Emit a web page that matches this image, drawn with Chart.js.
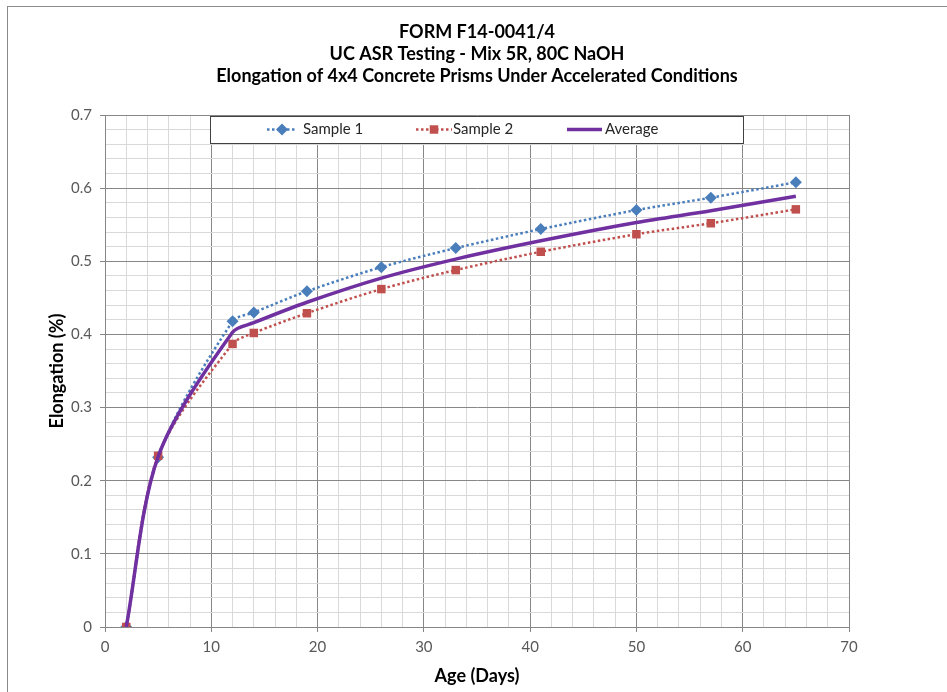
<!DOCTYPE html>
<html lang="en">
<head>
    <meta charset="UTF-8">
    <title>UC ASR Testing - Mix 5R</title>
    <script src="https://cdn.jsdelivr.net/npm/chart.js"></script>
    <style>
        body {
            margin: 0;
            background: #ffffff;
            font-family: Lato, sans-serif;
        }
        #frame {
            position: absolute;
            left: 7px;
            top: 6px;
            width: 1000px;
            height: 1000px;
            border-left: 1px solid #8a8a8a;
            border-top: 1px solid #8a8a8a;
        }
        #wrap {
            position: absolute;
            left: 0;
            top: 0;
            width: 947px;
            height: 692px;
        }
    </style>
</head>
<body>
    <div id="frame"></div>
    <div id="wrap">
        <canvas id="asrChart" width="947" height="692"></canvas>
    </div>
    <script>
        // ages (days) at which the prisms were measured
        const ageDays = [2, 5, 12, 14, 19, 26, 33, 41, 50, 57, 65];
        // elongation (%)
        const sample1 = [0, 0.232, 0.418, 0.430, 0.459, 0.492, 0.518, 0.544, 0.570, 0.587, 0.608];
        const sample2 = [0, 0.234, 0.387, 0.402, 0.429, 0.462, 0.488, 0.513, 0.537, 0.552, 0.571];
        const average = [0, 0.233, 0.403, 0.416, 0.444, 0.477, 0.503, 0.528, 0.553, 0.569, 0.589];

        const titleLines = [
            'FORM F14-0041/4',
            'UC ASR Testing - Mix 5R, 80C NaOH',
            'Elongation of 4x4 Concrete Prisms Under Accelerated Conditions'
        ];

        function toPoints(ys) {
            return ageDays.map((x, i) => ({ x: x, y: ys[i] }));
        }

        const isMajor = (v, unit) => Math.abs(v / unit - Math.round(v / unit)) < 1e-6;

        // title centred over the plot area (Excel centres it there, not on the canvas)
        const plotTitle = {
            id: 'plotTitle',
            afterDraw(chart) {
                const ctx = chart.ctx;
                const a = chart.chartArea;
                const cx = (a.left + a.right) / 2;
                ctx.save();
                ctx.fillStyle = '#000000';
                ctx.font = 'bold 18px Lato';
                ctx.textAlign = 'center';
                ctx.textBaseline = 'middle';
                titleLines.forEach((t, i) => ctx.fillText(t, cx, 32 + i * 22));
                ctx.restore();
            }
        };

        // legend box drawn inside the plot, Excel style
        const boxLegend = {
            id: 'boxLegend',
            afterDraw(chart) {
                const ctx = chart.ctx;
                const a = chart.chartArea;
                const x0 = a.left + 105, y0 = a.top + 1, w = 533, h = 27;
                ctx.save();
                ctx.fillStyle = '#ffffff';
                ctx.fillRect(x0, y0, w, h);
                ctx.strokeStyle = '#404040';
                ctx.lineWidth = 1;
                ctx.strokeRect(x0 + 0.5, y0 + 0.5, w, h);

                const cy = y0 + h / 2;
                const items = [
                    { ds: chart.data.datasets[0], lx: x0 + 57, len: 30, tx: x0 + 93 },
                    { ds: chart.data.datasets[1], lx: x0 + 206, len: 36, tx: x0 + 243 },
                    { ds: chart.data.datasets[2], lx: x0 + 357, len: 35, tx: x0 + 395 }
                ];
                items.forEach(it => {
                    const ds = it.ds;
                    ctx.strokeStyle = ds.borderColor;
                    ctx.lineWidth = ds.borderWidth;
                    ctx.lineCap = ds.borderCapStyle || 'butt';
                    ctx.setLineDash(ds.borderDash || []);
                    ctx.beginPath();
                    ctx.moveTo(it.lx, cy);
                    ctx.lineTo(it.lx + it.len, cy);
                    ctx.stroke();
                    ctx.setLineDash([]);
                    if (ds.pointRadius > 0) {
                        ctx.fillStyle = ds.backgroundColor;
                        Chart.helpers.drawPoint(ctx, {
                            pointStyle: ds.pointStyle,
                            radius: ds.pointRadius,
                            borderWidth: 0,
                            rotation: 0
                        }, it.lx + it.len / 2, cy);
                    }
                    ctx.fillStyle = '#262626';
                    ctx.font = '15px Lato';
                    ctx.textAlign = 'left';
                    ctx.textBaseline = 'middle';
                    ctx.fillText(ds.label, it.tx, cy);
                });
                ctx.restore();
            }
        };

        const ctx = document.getElementById('asrChart').getContext('2d');
        const asrChart = new Chart(ctx, {
            type: 'scatter',
            data: {
                datasets: [{
                    label: 'Sample 1',
                    data: toPoints(sample1),
                    showLine: true,
                    borderColor: '#4a7ebb',
                    backgroundColor: '#4a7ebb',
                    borderWidth: 2.5,
                    borderDash: [2.5, 2.5],
                    borderCapStyle: 'butt',
                    pointStyle: 'rectRot',
                    pointRadius: 6,
                    pointBorderWidth: 0,
                    tension: 0.3,
                    order: 2
                }, {
                    label: 'Sample 2',
                    data: toPoints(sample2),
                    showLine: true,
                    borderColor: '#c0504d',
                    backgroundColor: '#c0504d',
                    borderWidth: 2.5,
                    borderDash: [2.5, 2.5],
                    borderCapStyle: 'butt',
                    pointStyle: 'rect',
                    pointRadius: 6,
                    pointBorderWidth: 0,
                    tension: 0.3,
                    order: 1
                }, {
                    label: 'Average',
                    data: toPoints(average),
                    showLine: true,
                    borderColor: '#7030a0',
                    backgroundColor: '#7030a0',
                    borderWidth: 3.5,
                    pointRadius: 0,
                    tension: 0.3,
                    order: 0
                }]
            },
            options: {
                responsive: false,
                animation: false,
                layout: { padding: { left: 0, right: 98, top: 115, bottom: 0 } },
                plugins: {
                    legend: { display: false },
                    tooltip: { enabled: false },
                    title: { display: false }
                },
                scales: {
                    x: {
                        type: 'linear',
                        min: 0,
                        max: 70,
                        afterFit(scale) { scale.height = 65; },
                        border: { color: '#868686' },
                        grid: {
                            color: c => isMajor(c.tick.value, 10) ? '#878787' : '#d9d9d9',
                            tickColor: c => isMajor(c.tick.value, 10) ? '#868686' : 'rgba(0,0,0,0)',
                            tickLength: 5
                        },
                        ticks: {
                            stepSize: 2,
                            autoSkip: false,
                            maxTicksLimit: 100,
                            maxRotation: 0,
                            padding: 6,
                            color: '#595959',
                            font: { family: 'Lato', size: 15 },
                            callback: v => isMajor(v, 10) ? String(Math.round(v)) : ''
                        },
                        title: {
                            display: true,
                            text: 'Age (Days)',
                            color: '#000000',
                            font: { family: 'Lato', size: 18, weight: 'bold' },
                            padding: { top: 0, bottom: 5 }
                        }
                    },
                    y: {
                        min: 0,
                        max: 0.7,
                        afterFit(scale) { scale.width = 105; },
                        border: { color: '#868686' },
                        grid: {
                            color: c => isMajor(c.tick.value, 0.1) ? '#878787' : '#d9d9d9',
                            tickColor: c => isMajor(c.tick.value, 0.1) ? '#868686' : 'rgba(0,0,0,0)',
                            tickLength: 5
                        },
                        ticks: {
                            stepSize: 0.02,
                            autoSkip: false,
                            maxTicksLimit: 100,
                            padding: 8,
                            color: '#595959',
                            font: { family: 'Lato', size: 15 },
                            callback: v => isMajor(v, 0.1) ? String(Math.round(v * 10) / 10) : ''
                        },
                        title: {
                            display: true,
                            text: 'Elongation (%)',
                            color: '#000000',
                            font: { family: 'Lato', size: 18, weight: 'bold' },
                            padding: { top: 46, bottom: 0 }
                        }
                    }
                }
            },
            plugins: [plotTitle, boxLegend]
        });
    </script>
</body>
</html>
